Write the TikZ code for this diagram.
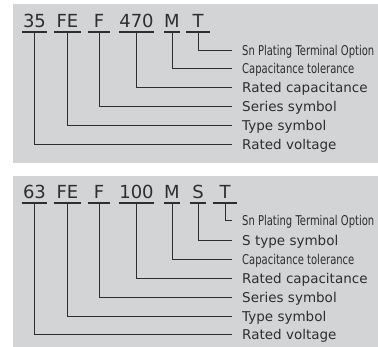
\documentclass[tikz,border=0pt]{standalone}
\usepackage{fontspec}
\setmainfont{DejaVu Sans}
\newfontfamily\narrowfont[FakeStretch=0.74]{DejaVu Sans}
\definecolor{panelgray}{HTML}{D3D4D6}
\definecolor{inkgray}{HTML}{2E2E2E}
\tikzset{
  code/.style={anchor=south, inner xsep=0pt, inner ysep=4pt, text depth=0pt,
    font=\fontsize{18}{18}\selectfont, text=inkgray},
  lbl/.style={anchor=west, inner xsep=10pt, inner ysep=0pt, text height=12pt,
    text depth=0pt, font=\fontsize{13.5}{14}\selectfont, text=inkgray},
  nlbl/.style={lbl, font=\fontsize{13.5}{14}\narrowfont},
  lead/.style={draw=inkgray, line width=0.9pt},
  uline/.style={draw=inkgray, line width=1.2pt},
}
\begin{document}
\begin{tikzpicture}[x=1pt,y=-1pt]
      \useasboundingbox (0,0) rectangle (378,347);
      \fill[panelgray] (13,4) rectangle (378,163);
      \fill[panelgray] (13,176) rectangle (378,347);
      % 35FEF470MT
      \draw
        (34.5,32) node[code, minimum width=25pt] (a35){35}
        (67.5,32) node[code, minimum width=27pt] (aFE){FE}
        (99,32) node[code, minimum width=22pt] (aF){F}
        (136.5,32) node[code, minimum width=35pt] (a470){470}
        (172,32) node[code, minimum width=16pt] (aM){M}
        (198,32) node[code, minimum width=24pt] (aT){T};
      \draw
        (232,50) node[nlbl] (tT){Sn Plating Terminal Option}
        (232,68) node[nlbl] (tM){Capacitance tolerance}
        (232,87) node[lbl] (t470){Rated capacitance}
        (232,106) node[lbl] (tF){Series symbol}
        (232,125) node[lbl] (tFE){Type symbol}
        (232,144) node[lbl] (t35){Rated voltage};
      \begin{scope}[uline]
        \draw (a35.south west) -- (a35.south east);
        \draw (aFE.south west) -- (aFE.south east);
        \draw (aF.south west) -- (aF.south east);
        \draw (a470.south west) -- (a470.south east);
        \draw (aM.south west) -- (aM.south east);
        \draw (aT.south west) -- (aT.south east);
      \end{scope}
      \begin{scope}[lead]
        \draw (aT.south) |- (tT.west);
        \draw (aM.south) |- (tM.west);
        \draw (a470.south) |- (t470.west);
        \draw (aF.south) |- (tF.west);
        \draw (aFE.south) |- (tFE.west);
        \draw (a35.south) |- (t35.west);
      \end{scope}
      % 63FEF100MST
      \draw
        (34.5,203) node[code, minimum width=25pt] (b63){63}
        (67.5,203) node[code, minimum width=27pt] (bFE){FE}
        (99,203) node[code, minimum width=22pt] (bF){F}
        (136.5,203) node[code, minimum width=35pt] (b100){100}
        (172,203) node[code, minimum width=16pt] (bM){M}
        (198,203) node[code, minimum width=16pt] (bS){S}
        (225,203) node[code, minimum width=24pt] (bT){T};
      \draw
        (232,220) node[nlbl] (sT){Sn Plating Terminal Option}
        (232,240) node[lbl] (sS){S type symbol}
        (232,259) node[nlbl] (sM){Capacitance tolerance}
        (232,278) node[lbl] (s100){Rated capacitance}
        (232,297) node[lbl] (sF){Series symbol}
        (232,316) node[lbl] (sFE){Type symbol}
        (232,334) node[lbl] (s63){Rated voltage};
      \begin{scope}[uline]
        \draw (b63.south west) -- (b63.south east);
        \draw (bFE.south west) -- (bFE.south east);
        \draw (bF.south west) -- (bF.south east);
        \draw (b100.south west) -- (b100.south east);
        \draw (bM.south west) -- (bM.south east);
        \draw (bS.south west) -- (bS.south east);
        \draw (bT.south west) -- (bT.south east);
      \end{scope}
      \begin{scope}[lead]
        \draw (bT.south) |- (sT.west);
        \draw (bS.south) |- (sS.west);
        \draw (bM.south) |- (sM.west);
        \draw (b100.south) |- (s100.west);
        \draw (bF.south) |- (sF.west);
        \draw (bFE.south) |- (sFE.west);
        \draw (b63.south) |- (s63.west);
      \end{scope}
    \end{tikzpicture}
\end{document}
